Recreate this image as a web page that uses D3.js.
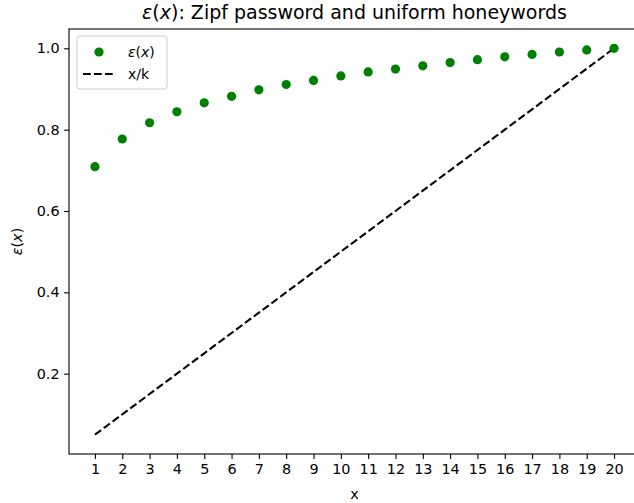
<!DOCTYPE html>
<html>
<head>
<meta charset="utf-8">
<script src="https://cdn.jsdelivr.net/npm/d3@7"></script>
<style>
  body { margin: 0; background: #fff; }
  svg { display: block; font-family: "DejaVu Sans", sans-serif; }
</style>
</head>
<body>
<div class="chart"></div>
<script>
// data
const xs = [1,2,3,4,5,6,7,8,9,10,11,12,13,14,15,16,17,18,19,20];
const eps = [0.709,0.777,0.817,0.844,0.866,0.882,0.898,0.911,0.921,0.932,
             0.942,0.949,0.957,0.965,0.972,0.979,0.985,0.991,0.996,1.0];
const k = 20;
const yTicks = [0.2,0.4,0.6,0.8,1.0];

let outWidth = 634, outHeight = 503;
let margin = {top:29, left:69, right:-6, bottom:49};
let width = outWidth - margin.left - margin.right,
    height = outHeight - margin.top - margin.bottom;

const svg = d3.select('.chart').append('svg')
  .attr("width", outWidth)
  .attr("height", outHeight);

const g = svg.append("g")
  .attr("transform", `translate(${margin.left}, ${margin.top})`);

const xScale = d3.scaleLinear().domain([0.05, 20.95]).range([0, width]);
const yScale = d3.scaleLinear().domain([0.0025, 1.0475]).range([height, 0]);

// x/k line
const line = d3.line().x(d=>xScale(d)).y(d=>yScale(d/k));
g.append("path")
  .datum(xs)
  .attr("d", line)
  .attr("fill","none")
  .attr("stroke","black")
  .attr("stroke-width",2.08)
  .attr("stroke-dasharray","7.7,3.3");

// epsilon points
g.selectAll("circle.pt")
  .data(xs)
  .enter()
  .append("circle")
  .attr("class","pt")
  .attr("cx",d=>xScale(d))
  .attr("cy",(d,i)=>yScale(eps[i]))
  .attr("r",4.6)
  .attr("fill","green");

// axes
const xAxis = d3.axisBottom(xScale).tickValues(xs).tickSize(4.9).tickPadding(4.5).tickFormat(d3.format("d"));
const yAxis = d3.axisLeft(yScale).tickValues(yTicks).tickSize(4.9).tickPadding(4.5).tickFormat(d3.format(".1f"));

g.append("g")
  .attr("class","axis x-axis")
  .attr("transform",`translate(0, ${height})`)
  .call(xAxis);
g.append("g")
  .attr("class","axis y-axis")
  .call(yAxis);

svg.selectAll(".axis path.domain").remove();
svg.selectAll(".axis line").attr("stroke","black").attr("stroke-width",1.1);
svg.selectAll(".axis text").attr("font-size","14.4px").attr("fill","black")
  .attr("font-family","DejaVu Sans, sans-serif");

// frame
g.append("rect")
  .attr("x",0).attr("y",0)
  .attr("width",width).attr("height",height)
  .attr("fill","none")
  .attr("stroke","black")
  .attr("stroke-width",1.1);

// title
const title = svg.append("text")
  .attr("x", margin.left + width/2)
  .attr("y", 19)
  .attr("text-anchor","middle")
  .attr("font-size","19px");
title.append("tspan").attr("font-style","italic").text("ε");
title.append("tspan").text("(");
title.append("tspan").attr("font-style","italic").text("x");
title.append("tspan").text("): Zipf password and uniform honeywords");

// axis labels
svg.append("text")
  .attr("x", margin.left + width/2)
  .attr("y", 499)
  .attr("text-anchor","middle")
  .attr("font-size","14.4px")
  .text("x");

const ylab = svg.append("text")
  .attr("transform",`translate(22, ${margin.top + height/2}) rotate(-90)`)
  .attr("text-anchor","middle")
  .attr("font-size","14.4px");
ylab.append("tspan").attr("font-style","italic").text("ε");
ylab.append("tspan").text("(");
ylab.append("tspan").attr("font-style","italic").text("x");
ylab.append("tspan").text(")");

// legend
const lg = svg.append("g").attr("transform","translate(77,36)");
lg.append("rect")
  .attr("width",90).attr("height",53)
  .attr("rx",3)
  .attr("fill","white")
  .attr("fill-opacity",0.8)
  .attr("stroke","#ccc")
  .attr("stroke-width",1);
lg.append("circle").attr("cx",22).attr("cy",16).attr("r",4.6).attr("fill","green");
const l1 = lg.append("text").attr("x",51).attr("y",21).attr("font-size","14px");
l1.append("tspan").attr("font-style","italic").text("ε");
l1.append("tspan").text("(");
l1.append("tspan").attr("font-style","italic").text("x");
l1.append("tspan").text(")");
lg.append("line")
  .attr("x1",6).attr("x2",38).attr("y1",38).attr("y2",38)
  .attr("stroke","black").attr("stroke-width",2.08)
  .attr("stroke-dasharray","7.7,3.3");
lg.append("text").attr("x",51).attr("y",43).attr("font-size","14px").text("x/k");
</script>
</body>
</html>
